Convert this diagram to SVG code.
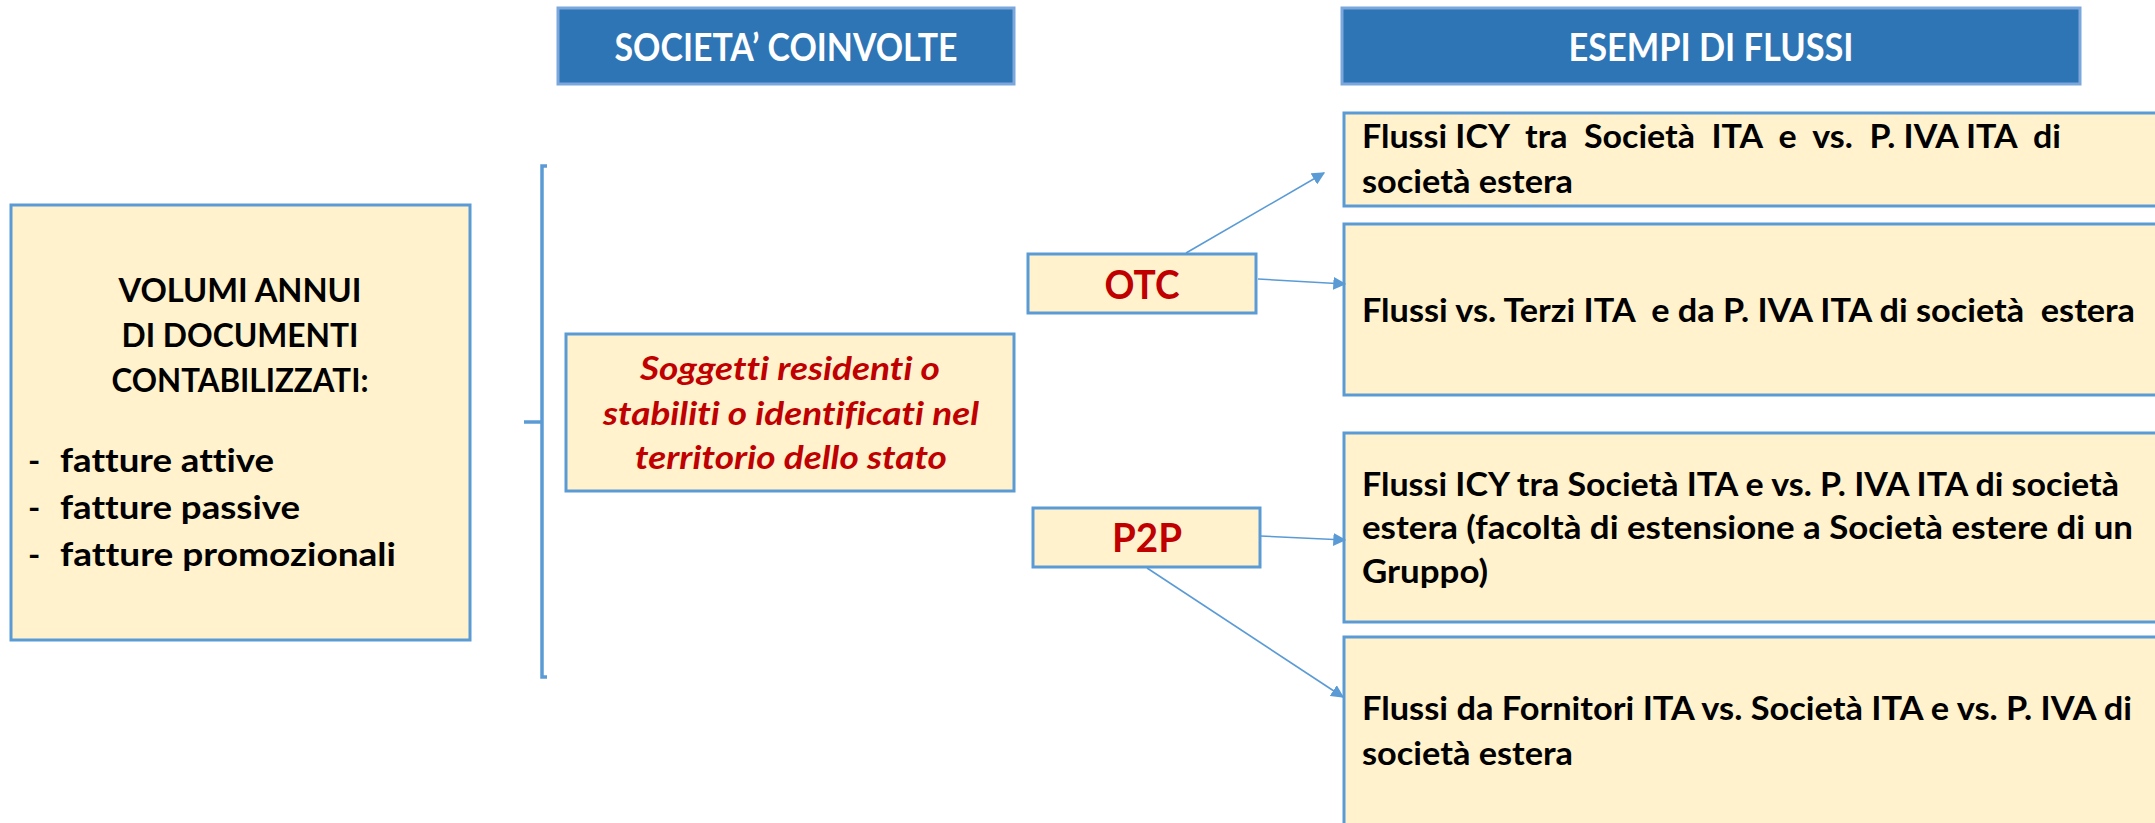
<svg xmlns="http://www.w3.org/2000/svg" width="2155" height="823" viewBox="0 0 2155 823">
<defs>
<style>
text{font-variant-ligatures:none}
.hdr{fill:#2E75B6;stroke:#7BA7DD;stroke-width:3}
.box{fill:#FFF2CC;stroke:#5B9BD5;stroke-width:3}
.ht{font-family:Lato,"Liberation Sans",sans-serif;font-weight:bold;font-size:38px;fill:#FFFFFF}
.bt{font-family:Lato,"Liberation Sans",sans-serif;font-weight:bold;font-size:33px;fill:#000000}
.rt{font-family:Lato,"Liberation Sans",sans-serif;font-weight:bold;font-style:italic;font-size:33px;fill:#C00000}
.big{font-family:Lato,"Liberation Sans",sans-serif;font-weight:bold;font-size:40px;fill:#C00000}
.conn{stroke:#5B9BD5;stroke-width:1.6;fill:none}
.br{stroke:#5B9BD5;stroke-width:3.5;fill:none}
</style>
<marker id="ah2" viewBox="0 0 10 10" refX="9" refY="5" markerWidth="13" markerHeight="13" markerUnits="userSpaceOnUse" orient="auto">
<path d="M0,0 L10,5 L0,10 z" fill="#5B9BD5"/>
</marker>
</defs>
<rect width="2155" height="823" fill="#FFFFFF"/>

<g id="hdr-societa">
<rect class="hdr" x="558" y="8" width="456" height="76"/>
<text class="ht" x="786" y="61" text-anchor="middle" textLength="343" lengthAdjust="spacingAndGlyphs">SOCIETA’ COINVOLTE</text>
</g>

<g id="hdr-esempi">
<rect class="hdr" x="1342" y="8" width="738" height="76"/>
<text class="ht" x="1711" y="61" text-anchor="middle" textLength="285" lengthAdjust="spacingAndGlyphs">ESEMPI DI FLUSSI</text>
</g>

<g id="volumi">
<rect class="box" x="11" y="205" width="459" height="435"/>
<text class="bt" x="240" y="302" text-anchor="middle" textLength="243" lengthAdjust="spacingAndGlyphs">VOLUMI ANNUI</text>
<text class="bt" x="240" y="347" text-anchor="middle" textLength="237" lengthAdjust="spacingAndGlyphs">DI DOCUMENTI</text>
<text class="bt" x="240" y="392" text-anchor="middle" textLength="257" lengthAdjust="spacingAndGlyphs">CONTABILIZZATI:</text>
<text class="bt" x="28" y="472">-</text>
<text class="bt" x="60" y="472" textLength="214" lengthAdjust="spacingAndGlyphs">fatture attive</text>
<text class="bt" x="28" y="519">-</text>
<text class="bt" x="60" y="519" textLength="240" lengthAdjust="spacingAndGlyphs">fatture passive</text>
<text class="bt" x="28" y="566">-</text>
<text class="bt" x="60" y="566" textLength="336" lengthAdjust="spacingAndGlyphs">fatture promozionali</text>
</g>

<g id="bracket">
<path class="br" d="M547,166 L542,166 L542,677 L547,677"/>
<path class="br" d="M524,422 L542,422"/>
</g>

<g id="soggetti">
<rect class="box" x="566" y="334" width="448" height="157"/>
<text class="rt" x="790" y="380" text-anchor="middle" textLength="300" lengthAdjust="spacingAndGlyphs">Soggetti residenti o</text>
<text class="rt" x="791" y="425" text-anchor="middle" textLength="376" lengthAdjust="spacingAndGlyphs">stabiliti o identificati nel</text>
<text class="rt" x="791" y="469" text-anchor="middle" textLength="312" lengthAdjust="spacingAndGlyphs">territorio dello stato</text>
</g>

<g id="otc">
<rect class="box" x="1028" y="254" width="228" height="59"/>
<text class="big" x="1142" y="299" text-anchor="middle" textLength="75" lengthAdjust="spacingAndGlyphs">OTC</text>
</g>

<g id="p2p">
<rect class="box" x="1033" y="508" width="227" height="59"/>
<text class="big" x="1147" y="552" text-anchor="middle" textLength="70" lengthAdjust="spacingAndGlyphs">P2P</text>
</g>

<g id="flusso1">
<rect class="box" x="1344" y="113" width="830" height="93"/>
<text class="bt" x="1362" y="148" xml:space="preserve" textLength="699" lengthAdjust="spacingAndGlyphs">Flussi ICY  tra  Società  ITA  e  vs.  P. IVA ITA  di</text>
<text class="bt" x="1362" y="193" textLength="211" lengthAdjust="spacingAndGlyphs">società estera</text>
</g>

<g id="flusso2">
<rect class="box" x="1344" y="224" width="830" height="171"/>
<text class="bt" x="1362" y="322" xml:space="preserve" textLength="773" lengthAdjust="spacingAndGlyphs">Flussi vs. Terzi ITA  e da P. IVA ITA di società  estera</text>
</g>

<g id="flusso3">
<rect class="box" x="1344" y="433" width="830" height="189"/>
<text class="bt" x="1362" y="496" textLength="757" lengthAdjust="spacingAndGlyphs">Flussi ICY tra Società ITA e vs. P. IVA ITA di società</text>
<text class="bt" x="1362" y="539" textLength="771" lengthAdjust="spacingAndGlyphs">estera (facoltà di estensione a Società estere di un</text>
<text class="bt" x="1362" y="583" textLength="126" lengthAdjust="spacingAndGlyphs">Gruppo)</text>
</g>

<g id="flusso4">
<rect class="box" x="1344" y="637" width="830" height="200"/>
<text class="bt" x="1362" y="720" textLength="770" lengthAdjust="spacingAndGlyphs">Flussi da Fornitori ITA vs. Società ITA e vs. P. IVA di</text>
<text class="bt" x="1362" y="765" textLength="211" lengthAdjust="spacingAndGlyphs">società estera</text>
</g>

<g id="connectors">
<line class="conn" x1="1186" y1="253" x2="1324" y2="173" marker-end="url(#ah2)"/>
<line class="conn" x1="1258" y1="279" x2="1345" y2="284" marker-end="url(#ah2)"/>
<line class="conn" x1="1260" y1="536" x2="1345" y2="540" marker-end="url(#ah2)"/>
<line class="conn" x1="1147" y1="568" x2="1343" y2="697" marker-end="url(#ah2)"/>
</g>
</svg>
